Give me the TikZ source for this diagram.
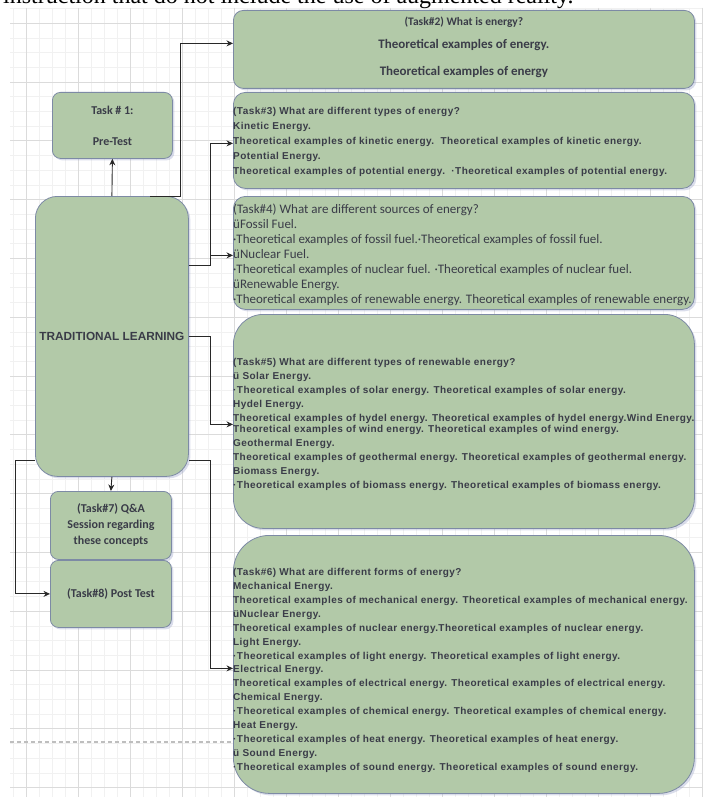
\documentclass[tikz,border=0pt]{standalone}
\usepackage{fontspec}
\setmainfont{Liberation Serif}
\newfontfamily\spacedsans[LetterSpace=4.4]{Liberation Sans}
\newfontfamily\plainsans{Liberation Sans}
\newfontfamily\cali{Carlito}
\usetikzlibrary{arrows.meta,shadows}

\definecolor{boxfill}{RGB}{178,201,168}
\definecolor{boxline}{RGB}{125,138,165}
\definecolor{txt}{RGB}{58,60,72}
\definecolor{gridminor}{RGB}{241,241,241}
\definecolor{gridmajor}{RGB}{219,219,219}
\definecolor{dashgrey}{RGB}{190,190,190}
\definecolor{wire}{RGB}{40,40,40}
\definecolor{shade}{RGB}{150,160,200}

\tikzset{
  box/.style={draw=boxline, fill=boxfill, line width=0.8pt, inner sep=0pt,
    anchor=north west,
    drop shadow={fill=shade, opacity=0.35, shadow xshift=2pt, shadow yshift=-2pt}},
  smallbox/.style={box, rounded corners=8pt, text=txt, align=center,
    font=\cali\bfseries\fontsize{12}{15}\selectfont},
  body/.style={anchor=west, inner sep=0pt, align=left, text=txt},
  conn/.style={draw=wire, line width=0.9pt, -{Stealth[length=6.5pt,width=6pt]}},
  gridlo/.style={draw=gridminor, line width=0.7pt},
  gridhi/.style={draw=gridmajor, line width=0.8pt},
}

\begin{document}
\begin{tikzpicture}[x=1pt,y=-1pt]
\clip (0,0) rectangle (703,797);
\useasboundingbox (0,0) rectangle (703,797);
\fill[white] (0,0) rectangle (703,797);

% background grid
\foreach \x in {13,26,...,702} \draw[gridlo] (\x,8) -- (\x,797);
\foreach \i in {0,...,53} {
  \pgfmathsetmacro\yy{8.5+14.7*\i}
  \draw[gridlo] (10,\yy) -- (703,\yy);
}
\foreach \x in {26,78,...,702} \draw[gridhi] (\x,8) -- (\x,797);
\foreach \i in {0,...,13} {
  \pgfmathsetmacro\yy{23.2+58.8*\i}
  \draw[gridhi] (10,\yy) -- (703,\yy);
}
\draw[dashgrey, line width=1.2pt, dash pattern=on 4pt off 3pt] (10,742) -- (236,742);

% running text of the page above the chart
\node[anchor=base west, inner sep=0pt, font=\fontsize{24}{28}\selectfont] (caption) at (3,4)
  {instruction that do not include the use of augmented reality.};

% left column
\node[smallbox, minimum width=120pt, minimum height=66pt] (task1) at (52,92)
  {Task \# 1:\\[16pt]Pre-Test};
\node[box, rounded corners=22pt, minimum width=153pt, minimum height=280pt,
      text=txt, font=\plainsans\bfseries\fontsize{11.8}{14}\selectfont] (trad) at (35,196)
  {TRADITIONAL LEARNING};
\node[smallbox, minimum width=121pt, minimum height=68pt] (task7) at (50,491)
  {(Task\#7) Q\&A\\[1pt]Session regarding\\[1pt]these concepts};
\node[smallbox, minimum width=121pt, minimum height=67pt] (task8) at (50,560)
  {(Task\#8) Post Test};

% right column
\node[box, rounded corners=10pt, minimum width=461pt, minimum height=78pt] (task2) at (233,10) {};
\node[box, rounded corners=12pt, minimum width=461pt, minimum height=96pt] (task3) at (233,92) {};
\node[box, rounded corners=12pt, minimum width=461pt, minimum height=113pt] (task4) at (233,196) {};
\node[box, rounded corners=30pt, minimum width=461pt, minimum height=214pt] (task5) at (233,314) {};
\node[box, rounded corners=36pt, minimum width=461pt, minimum height=258pt] (task6) at (233,535) {};

\node[inner sep=0pt, align=center, text=txt, font=\cali\bfseries\fontsize{13}{15}\selectfont]
  (task2text) at ([yshift=2pt]task2.center)
  {{\fontsize{11.5}{14}\selectfont (Task\#2) What is energy?}\\[8pt]
   Theoretical examples of energy.\\[12pt]
   Theoretical examples of energy};

\node[body, font=\spacedsans\bfseries\fontsize{10}{15}\selectfont] (task3text) at ([yshift=-2pt]task3.west)
  {(Task\#3) What are different types of energy?\\
   Kinetic Energy.\\
   Theoretical examples of kinetic energy.\ \ Theoretical examples of kinetic energy.\\
   Potential Energy.\\
   Theoretical examples of potential energy.\ \ ·Theoretical examples of potential energy.};

\node[body, font=\cali\fontsize{13}{15}\selectfont] (task4text) at ([yshift=-2pt]task4.west)
  {(Task\#4) What are different sources of energy?\\
   üFossil Fuel.\\
   ·Theoretical examples of fossil fuel.·Theoretical examples of fossil fuel.\\
   üNuclear Fuel.\\
   ·Theoretical examples of nuclear fuel. ·Theoretical examples of nuclear fuel.\\
   üRenewable Energy.\\
   ·Theoretical examples of renewable energy. Theoretical examples of renewable energy.};

\node[body, font=\spacedsans\bfseries\fontsize{10}{13.9}\selectfont] (task5text) at ([yshift=-3pt]task5.west)
  {(Task\#5) What are different types of renewable energy?\\
   ü Solar Energy.\\
   ·Theoretical examples of solar energy. Theoretical examples of solar energy.\\
   Hydel Energy.\\
   Theoretical examples of hydel energy. Theoretical examples of hydel energy.Wind Energy.\\[-2pt]
   Theoretical examples of wind energy. Theoretical examples of wind energy.\\
   Geothermal Energy.\\
   Theoretical examples of geothermal energy. Theoretical examples of geothermal energy.\\
   Biomass Energy.\\
   ·Theoretical examples of biomass energy. Theoretical examples of biomass energy.};

\node[body, font=\spacedsans\bfseries\fontsize{10}{13.9}\selectfont] (task6text) at ([yshift=-6pt]task6.west)
  {(Task\#6) What are different forms of energy?\\
   Mechanical Energy.\\
   Theoretical examples of mechanical energy. Theoretical examples of mechanical energy.\\
   üNuclear Energy.\\
   Theoretical examples of nuclear energy.Theoretical examples of nuclear energy.\\
   Light Energy.\\
   ·Theoretical examples of light energy. Theoretical examples of light energy.\\
   Electrical Energy.\\
   Theoretical examples of electrical energy. Theoretical examples of electrical energy.\\
   Chemical Energy.\\
   ·Theoretical examples of chemical energy. Theoretical examples of chemical energy.\\
   Heat Energy.\\
   ·Theoretical examples of heat energy. Theoretical examples of heat energy.\\
   ü Sound Energy.\\
   ·Theoretical examples of sound energy. Theoretical examples of sound energy.};

% connectors
\draw[conn] (trad.north) -- (task1.south);
\draw[conn] (trad.south) -- (task7.north);
\draw[conn] ([xshift=38.5pt]trad.north) -- ++(30,0) |- ([yshift=6pt]task2.west);
\draw[conn] ([yshift=71pt]trad.east) -- ++(22,0) |- ([yshift=-3pt]task3.west);
\draw[conn] ([yshift=71pt]trad.east) -- ++(22,0) |- ([yshift=-2.5pt]task4.west);
\draw[conn] (trad.east) -- ++(22,0) |- ([yshift=-3pt]task5.west);
\draw[draw=wire, line width=1.8pt] (trad.east) -- ++(22,0);
\draw[conn] ([yshift=-124pt]trad.east) -- ++(22,0) |- ([yshift=-4pt]task6.west);
\draw[conn] ([yshift=-124pt]trad.west) -- ++(-20,0) |- (task8.west);
\end{tikzpicture}
\end{document}
